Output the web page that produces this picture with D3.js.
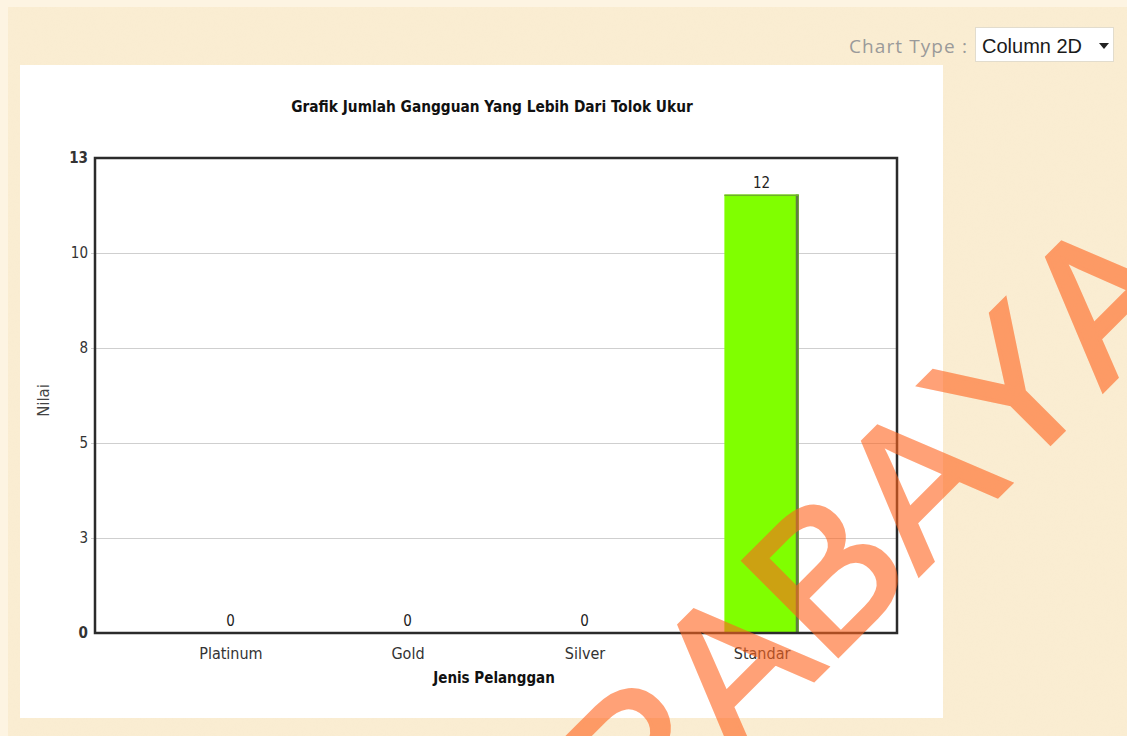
<!DOCTYPE html>
<html>
<head>
<meta charset="utf-8">
<script src="https://cdn.jsdelivr.net/npm/d3@7"></script>
<style>
  html, body { margin: 0; padding: 0; background: #fcf3e1; }
  svg { display: block; }
</style>
</head>
<body>
<svg id="chart" width="1127" height="736"></svg>
<script>
// ---- data ----
const categories = ["Platinum", "Gold", "Silver", "Standar"];
const values = [0, 0, 0, 12];
const yTickValues = [0, 2.6, 5.2, 7.8, 10.4, 13];
const yMax = 13;
const chartTitle = "Grafik Jumlah Gangguan Yang Lebih Dari Tolok Ukur";
const xTitle = "Jenis Pelanggan";
const yTitle = "Nilai";
const chartTypeLabel = "Chart Type :";
const chartTypeValue = "Column 2D";
const watermark = "SURABAYA";

const W = 1127, H = 736;
const svg = d3.select("#chart");
const FONT = "'DejaVu Sans Condensed', 'DejaVu Sans', sans-serif";

// page background
svg.append("rect").attr("x", 0).attr("y", 0).attr("width", W).attr("height", H).attr("fill", "#fdf4e2");
svg.append("rect").attr("x", 8).attr("y", 7).attr("width", W - 8).attr("height", H - 7).attr("fill", "#faedd2");

// subtle texture
const defs = svg.append("defs");
const f = defs.append("filter").attr("id", "noise").attr("x", 0).attr("y", 0).attr("width", "100%").attr("height", "100%");
f.append("feTurbulence").attr("type", "fractalNoise").attr("baseFrequency", 0.9).attr("numOctaves", 2).attr("result", "n");
f.append("feColorMatrix").attr("type", "matrix")
  .attr("values", "0 0 0 0 0.85  0 0 0 0 0.75  0 0 0 0 0.55  0 0 0 0.12 0");
svg.append("rect").attr("x", 8).attr("y", 7).attr("width", W - 8).attr("height", H - 7)
  .attr("filter", "url(#noise)").attr("opacity", 0.3);

// white chart panel
svg.append("rect").attr("x", 20).attr("y", 65).attr("width", 923).attr("height", 653).attr("fill", "#ffffff");

// Chart type selector
svg.append("text").attr("x", 968).attr("y", 53).attr("text-anchor", "end")
  .attr("font-family", "'Open Sans', sans-serif").attr("font-size", 19).attr("letter-spacing", 1.1).attr("fill", "#9a9a9a")
  .text(chartTypeLabel);
svg.append("rect").attr("x", 975.5).attr("y", 27.5).attr("width", 138).attr("height", 34)
  .attr("fill", "#ffffff").attr("stroke", "#e2dccd").attr("stroke-width", 1);
svg.append("text").attr("x", 982).attr("y", 53)
  .attr("font-family", "'Liberation Sans Narrow', 'Liberation Sans', Arial, sans-serif").attr("font-size", 20).attr("fill", "#1a1a1a")
  .text(chartTypeValue);
svg.append("path").attr("d", "M1099,43 L1109,43 L1104,49 Z").attr("fill", "#222");

// plot area
const plot = { left: 95, right: 897, top: 158, bottom: 633 };
const x = d3.scalePoint().domain(categories).range([plot.left, plot.right]).padding(0.765);
const y = d3.scaleLinear().domain([0, yMax]).range([plot.bottom, plot.top]);
const barW = x.step() * 0.42;

// title
svg.append("text").attr("x", 492).attr("y", 112).attr("text-anchor", "middle")
  .attr("font-family", FONT).attr("font-weight", "bold").attr("font-size", 15.3).attr("fill", "#111")
  .text(chartTitle);

// gridlines
svg.append("g").selectAll("line").data(yTickValues.filter(d => d > 0 && d < yMax)).join("line")
  .attr("x1", plot.left - 4).attr("x2", plot.right)
  .attr("y1", d => Math.round(y(d)) + 0.5).attr("y2", d => Math.round(y(d)) + 0.5)
  .attr("stroke", "#cfcfcf").attr("stroke-width", 1.2);

// y axis tick labels
const yAxis = d3.axisLeft(y).tickValues(yTickValues).tickFormat(d3.format(".0f")).tickSize(0).tickPadding(7);
const gy = svg.append("g").attr("transform", `translate(${plot.left},0)`).call(yAxis);
gy.select(".domain").remove();
gy.selectAll("text").attr("font-family", FONT).attr("font-size", 15).attr("fill", "#333")
  .attr("font-weight", d => (d === 0 || d === yMax) ? "bold" : "normal");

// bars
const bars = svg.append("g");
categories.forEach((c, i) => {
  const v = values[i];
  if (v <= 0) return;
  const x0 = x(c) - barW / 2, y0 = y(v), h = y(0) - y(v);
  bars.append("rect").attr("x", x0).attr("y", y0).attr("width", barW).attr("height", h).attr("fill", "#80ff00");
  bars.append("rect").attr("x", x0 + barW - 3).attr("y", y0).attr("width", 3).attr("height", h).attr("fill", "#5f7d45");
  bars.append("rect").attr("x", x0).attr("y", y0).attr("width", barW).attr("height", 1.5).attr("fill", "#6fae2a");
});

// plot border
svg.append("rect").attr("x", plot.left).attr("y", plot.top)
  .attr("width", plot.right - plot.left).attr("height", plot.bottom - plot.top)
  .attr("fill", "none").attr("stroke", "#2b2b2b").attr("stroke-width", 2.5);

// value labels
svg.append("g").selectAll("text").data(categories).join("text")
  .attr("x", d => x(d)).attr("y", (d, i) => y(values[i]) - 7)
  .attr("text-anchor", "middle").attr("font-family", FONT).attr("font-size", 15).attr("fill", "#222")
  .text((d, i) => values[i]);

// x axis labels
const xAxis = d3.axisBottom(x).tickSize(0).tickPadding(15);
const gx = svg.append("g").attr("transform", `translate(0,${plot.bottom})`).call(xAxis);
gx.select(".domain").remove();
gx.selectAll("text").attr("font-family", FONT).attr("font-size", 16).attr("fill", "#333");

// axis titles
svg.append("text").attr("x", 494).attr("y", 683).attr("text-anchor", "middle")
  .attr("font-family", FONT).attr("font-weight", "bold").attr("font-size", 15).attr("fill", "#111")
  .text(xTitle);
svg.append("text").attr("transform", `translate(49,${(plot.top + plot.bottom) / 2 + 5}) rotate(-90)`)
  .attr("text-anchor", "middle").attr("font-family", FONT).attr("font-size", 16.5).attr("fill", "#444")
  .text(yTitle);

// watermark
svg.append("g").attr("opacity", 0.6)
  .append("text").attr("transform", "translate(1195,299) rotate(-45)")
  .attr("text-anchor", "end").attr("font-family", "'Liberation Sans', Arial, sans-serif")
  .style("font-kerning", "none")
  .attr("font-size", 195).attr("fill", "rgb(255,100,30)")
  .attr("stroke", "rgb(255,100,30)").attr("stroke-width", 4).attr("stroke-linejoin", "miter")
  .text(watermark);
</script>
</body>
</html>
